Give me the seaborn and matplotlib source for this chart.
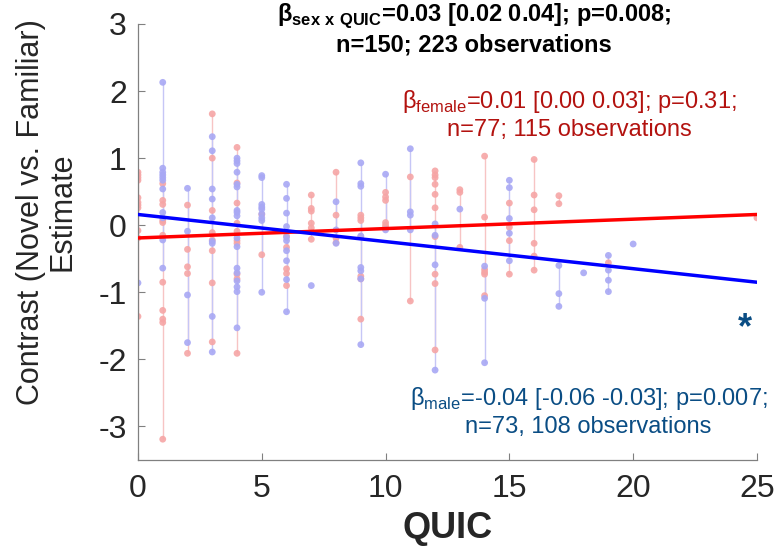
import numpy as np
import pandas as pd
import matplotlib
matplotlib.use("Agg")
import matplotlib.pyplot as plt
import seaborn as sns

sns.set_style("ticks")
plt.rcParams['font.family'] = ['Liberation Sans', 'DejaVu Sans']
plt.rcParams['mathtext.fontset'] = 'custom'
plt.rcParams['mathtext.rm'] = 'Liberation Sans'
plt.rcParams['mathtext.bf'] = 'Liberation Sans:bold'
plt.rcParams['axes.unicode_minus'] = False

# QUIC score -> estimates
female_quic = [0, 1, 2, 3, 4, 5, 6, 7, 8, 9, 10, 11, 12, 13, 14, 15, 16, 17, 19, 25]
female_est = [
    [0.79, 0.75, 0.71, 0.67, 0.41, 0.34, 0.30, 0.26, -0.08, -0.19, -1.36],
    [0.62, 0.37, 0.31, 0.07, 0.04, -0.15, -0.85, -1.27, -1.40, -1.45, -3.19],
    [0.30, -0.36, -0.62, -0.72, -1.91],
    [1.66, 1.00, 0.22, -0.11, -0.22, -0.38, -0.86, -1.74],
    [1.16, 0.63, 0.33, 0.03, -0.09, -0.23, -0.27, -0.73, -0.80, -1.91],
    [0.16, -0.44],
    [-0.16, -0.33, -0.65, -0.72, -0.90],
    [0.45, 0.25, 0.21, 0.03, -0.04, -0.21],
    [0.79, 0.15, -0.19, -0.26],
    [0.15, 0.11, 0.07, -0.17, -0.76, -0.80, -1.40],
    [0.49, 0.42, 0.37, 0.04, 0.00, -0.03],
    [0.72, -1.13],
    [0.81, 0.75, 0.71, 0.61, 0.46, 0.26, -0.17, -0.73, -0.87, -1.86],
    [0.53, 0.49, -0.33],
    [1.03, 0.12, -0.66, -0.70, -0.73, -1.05],
    [0.33, -0.03, -0.23, -0.73],
    [0.98, 0.45, 0.23, -0.27, -0.46, -0.67],
    [0.44, 0.32],
    [-0.56],
    [0.11],
]

male_quic = [0, 1, 2, 3, 4, 5, 6, 7, 8, 9, 10, 11, 12, 13, 14, 15, 17, 18, 19, 20]
male_est = [
    [-0.86],
    [2.13, 0.85, 0.79, 0.75, 0.71, 0.67, 0.54, 0.19, 0.11, -0.22, -0.64],
    [0.55, -0.09, -1.04, -1.75],
    [1.32, 1.11, 0.54, 0.39, 0.11, -0.24, -0.27, -1.36, -1.89],
    [1.00, 0.96, 0.92, 0.79, 0.61, 0.57, 0.22, 0.19, 0.14, -0.19, -0.32, -0.64,
     -0.71, -0.83, -0.92, -0.99, -1.53],
    [0.74, 0.71, 0.31, 0.27, 0.24, 0.17, 0.11, 0.07, -1.00],
    [0.61, 0.40, 0.18, -0.02, -0.18, -0.23, -0.38, -0.53, -0.81, -1.29],
    [-0.90],
    [0.35, -0.07, -0.27],
    [0.93, 0.62, 0.58, -0.16, -0.63, -0.68, -0.80, -1.78],
    [0.76, -0.07],
    [1.14, 0.20, 0.15, -0.07],
    [0.02, -0.15, -0.59, -2.16],
    [0.24],
    [-0.61, -1.09, -2.05],
    [0.67, 0.56, 0.10, -0.12, -0.53],
    [-0.60, -1.02, -1.21],
    [-0.71],
    [-0.45, -0.67, -0.82, -0.99],
    [-0.28],
]

# fitted lines: (intercept, slope)
female_fit = (-0.19, 0.014)
male_fit = (0.16, -0.0404)
fit_range = [0, 25]

title_txt = ("β$_{\\mathbf{sex\\ x\\ QUIC}}$=0.03 [0.02 0.04]; p=0.008;\n"
             "n=150; 223 observations")
female_txt = ("β$_{\\mathrm{female}}$=0.01 [0.00 0.03]; p=0.31;\n"
              "n=77; 115 observations")
male_txt = ("β$_{\\mathrm{male}}$=-0.04 [-0.06 -0.03]; p=0.007;\n"
            "n=73, 108 observations")

rows = []
for q, vals in zip(female_quic, female_est):
    for v in vals:
        rows.append(("female", q, v))
for q, vals in zip(male_quic, male_est):
    for v in vals:
        rows.append(("male", q, v))
df = pd.DataFrame(rows, columns=["sex", "QUIC", "estimate"])

dot_col = {"female": "#f6a5a5", "male": "#a8a8f4"}
vline_col = {"female": "#f7c4c4", "male": "#c6c6f6"}

fig = plt.figure(figsize=(7.84, 5.54), dpi=100)
ax = fig.add_axes([0.176, 0.1697, 0.7895, 0.787])

# range of each subject group at a score
for sex in ["female", "male"]:
    g = df[df.sex == sex].groupby("QUIC")["estimate"].agg(["min", "max"])
    ax.vlines(g.index, g["min"], g["max"], color=vline_col[sex], lw=1.0, zorder=1)

sns.scatterplot(data=df, x="QUIC", y="estimate", hue="sex", palette=dot_col,
                s=24, edgecolor="none", alpha=0.9, legend=False, ax=ax, zorder=2)

fx = np.array(fit_range, dtype=float)
sns.lineplot(x=fx, y=female_fit[0] + female_fit[1] * fx, color="#ff0000", lw=2.5, ax=ax, zorder=3)
sns.lineplot(x=fx, y=male_fit[0] + male_fit[1] * fx, color="#0000ff", lw=2.5, ax=ax, zorder=3)

ax.set_xlim(0, 25)
ax.set_ylim(-3.5, 3)
ax.set_xticks([0, 5, 10, 15, 20, 25])
ax.set_yticks([-3, -2, -1, 0, 1, 2, 3])
for s in ["top", "right"]:
    ax.spines[s].set_visible(False)
for s in ["left", "bottom"]:
    ax.spines[s].set_color("#808080")
    ax.spines[s].set_linewidth(0.9)
ax.tick_params(direction="in", length=5, color="#808080", labelsize=23,
               labelcolor="#262626")
ax.tick_params(axis="x", pad=10)
ax.tick_params(axis="y", pad=8)

ax.set_xlabel("QUIC", fontsize=26, fontweight="bold")
ax.xaxis.set_label_coords(0.5, -0.117)
ax.set_ylabel("Contrast (Novel vs. Familiar)\nEstimate", fontsize=22, linespacing=1.1)
ax.yaxis.set_label_coords(-0.097, 0.569)

ax.text(13.57, 2.93, title_txt, ha="center", va="center", fontsize=17,
        fontweight="bold", color="black", clip_on=False)
ax.text(17.41, 1.65, female_txt, ha="center", va="center", fontsize=17,
        color="#b3120f")
ax.text(18.2, -2.78, male_txt, ha="center", va="center", fontsize=17,
        color="#0a4d84")
ax.text(24.5, -1.69, "*", ha="center", va="baseline", fontsize=26,
        fontweight="bold", color="#0a4d84")

fig.savefig("out.png", dpi=100)
